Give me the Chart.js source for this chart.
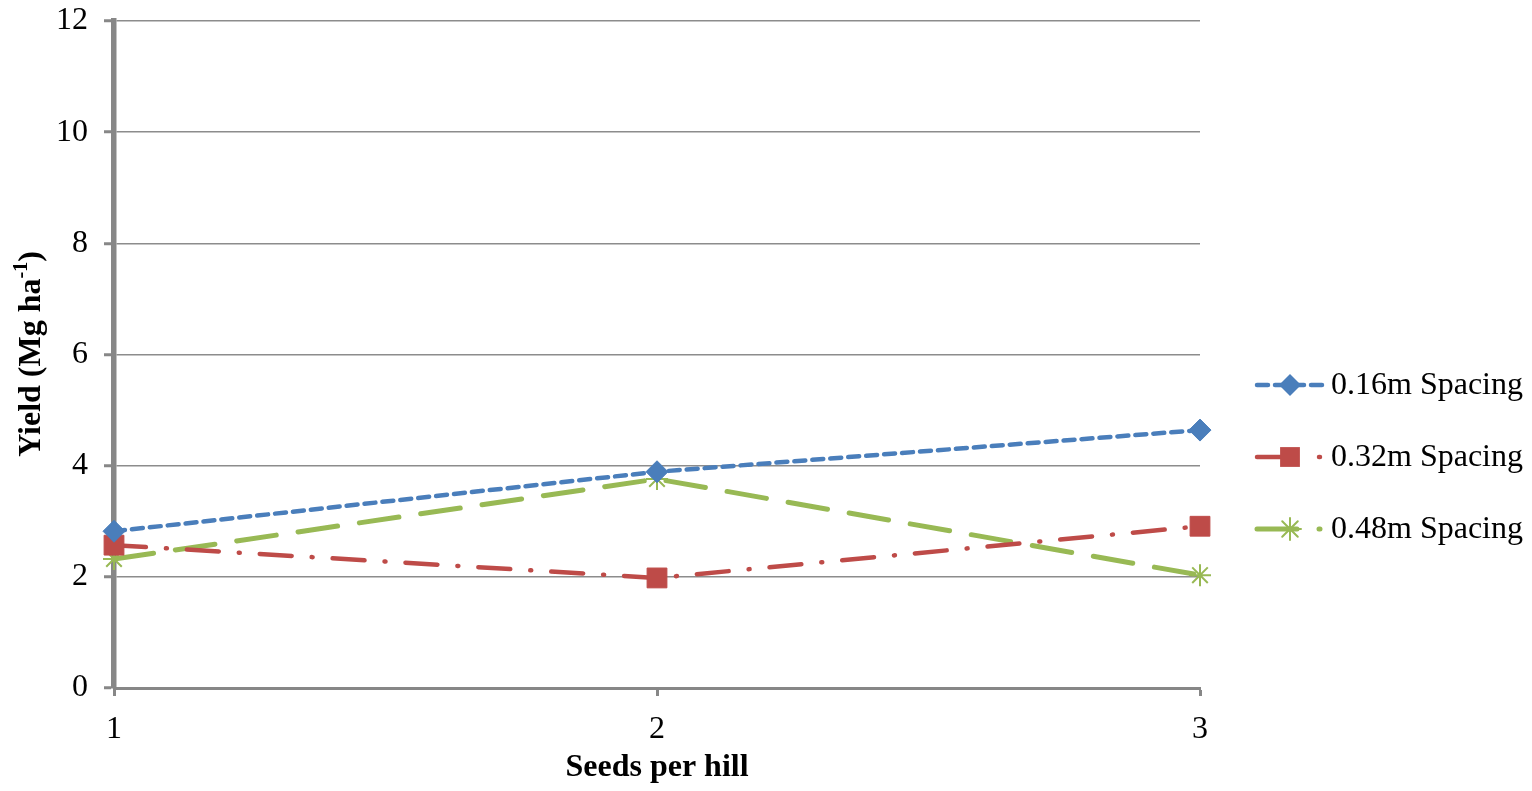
<!DOCTYPE html>
<html lang="en">
<head>
<meta charset="UTF-8">
<title>Yield by seeds per hill</title>
<script src="https://cdn.jsdelivr.net/npm/chart.js"></script>
<style>
  html, body { margin: 0; padding: 0; background: #fff; }
  #wrap { width: 1532px; height: 791px; position: relative; }
</style>
</head>
<body>
<div id="wrap"><canvas id="yieldChart"></canvas></div>
<script>
// seeds per hill
const seeds = ['1', '2', '3'];
// yield, Mg ha-1
const spacing016 = [2.82, 3.89, 4.64];
const spacing032 = [2.57, 1.98, 2.91];
const spacing048 = [2.32, 3.76, 2.03];
const yTicks = [0, 2, 4, 6, 8, 10, 12];

const AXIS_GREY = '#878787';
const FONT = '"Liberation Serif", "Times New Roman", serif';
const FS = 32;

// y axis title with superscript, and the line+marker legend on the right
const extras = {
  id: 'extras',
  afterDraw(chart) {
    const ctx = chart.ctx;

    // y title
    ctx.save();
    ctx.translate(32, 354);
    ctx.rotate(-Math.PI / 2);
    ctx.fillStyle = '#000';
    ctx.textBaseline = 'middle';
    const a = 'Yield (Mg ha', b = '-1', c = ')';
    ctx.font = 'bold ' + FS + 'px ' + FONT;
    const wa = ctx.measureText(a).width, wc = ctx.measureText(c).width;
    ctx.font = 'bold 20px ' + FONT;
    const wb = ctx.measureText(b).width;
    let x = -(wa + wb + wc) / 2;
    ctx.font = 'bold ' + FS + 'px ' + FONT;
    ctx.textAlign = 'left';
    ctx.fillText(a, x, 0);
    x += wa;
    ctx.font = 'bold 20px ' + FONT;
    ctx.fillText(b, x, -10);
    x += wb;
    ctx.font = 'bold ' + FS + 'px ' + FONT;
    ctx.fillText(c, x, 0);
    ctx.restore();

    // legend
    const rows = [385, 457, 529];
    chart.data.datasets.forEach((ds, i) => {
      const y = rows[i];
      ctx.save();
      ctx.strokeStyle = ds.borderColor;
      ctx.lineWidth = ds.borderWidth;
      ctx.lineCap = 'round';
      ctx.setLineDash(ds.legendDash);
      ctx.beginPath();
      ctx.moveTo(1257, y);
      ctx.lineTo(1322, y);
      ctx.stroke();
      ctx.setLineDash([]);
      drawMarker(ctx, ds, 1290, y);
      ctx.fillStyle = '#000';
      ctx.font = FS + 'px ' + FONT;
      ctx.textAlign = 'left';
      ctx.textBaseline = 'middle';
      ctx.fillText(ds.label, 1331, y + 1);
      ctx.restore();
    });
  }
};

function drawMarker(ctx, ds, x, y) {
  const r = ds.pointRadius;
  ctx.fillStyle = ds.pointBackgroundColor;
  ctx.strokeStyle = ds.pointBorderColor;
  ctx.lineWidth = ds.pointBorderWidth;
  ctx.beginPath();
  if (ds.pointStyle === 'rectRot') {
    ctx.moveTo(x, y - r); ctx.lineTo(x + r, y); ctx.lineTo(x, y + r); ctx.lineTo(x - r, y);
    ctx.closePath(); ctx.fill();
  } else if (ds.pointStyle === 'rect') {
    const s = r * Math.SQRT1_2;
    ctx.rect(x - s, y - s, 2 * s, 2 * s); ctx.fill();
  } else {
    for (let k = 0; k < 4; k++) {
      const ang = k * Math.PI / 4;
      ctx.moveTo(x - r * Math.cos(ang), y - r * Math.sin(ang));
      ctx.lineTo(x + r * Math.cos(ang), y + r * Math.sin(ang));
    }
    ctx.stroke();
  }
}

new Chart(document.getElementById('yieldChart'), {
  type: 'line',
  data: {
    labels: seeds,
    datasets: [
      {
        label: '0.16m Spacing', data: spacing016,
        borderColor: '#4A7EBB', borderWidth: 4.5, borderDash: [11, 7], legendDash: [11, 7],
        borderCapStyle: 'round',
        pointStyle: 'rectRot', pointRadius: 11, pointBackgroundColor: '#4A7EBB',
        pointBorderColor: '#4A7EBB', pointBorderWidth: 1
      },
      {
        label: '0.32m Spacing', data: spacing032,
        borderColor: '#BE4B48', borderWidth: 4.5, borderDash: [32, 20, 1, 20], legendDash: [32, 30, 1, 20],
        borderCapStyle: 'round',
        pointStyle: 'rect', pointRadius: 14, pointBackgroundColor: '#BE4B48',
        pointBorderColor: '#BE4B48', pointBorderWidth: 1
      },
      {
        label: '0.48m Spacing', data: spacing048,
        borderColor: '#98B954', borderWidth: 5, borderDash: [40, 22], legendDash: [40, 22, 1, 20],
        borderCapStyle: 'round',
        pointStyle: 'star', pointRadius: 11, pointBackgroundColor: '#98B954',
        pointBorderColor: '#98B954', pointBorderWidth: 2
      }
    ]
  },
  options: {
    responsive: true,
    maintainAspectRatio: false,
    animation: false,
    layout: { padding: { left: 0, right: 332, top: 21, bottom: 0 } },
    plugins: { legend: { display: false }, tooltip: { enabled: false } },
    scales: {
      x: {
        offset: false,
        grid: { drawOnChartArea: false, drawTicks: true, tickLength: 8, tickColor: AXIS_GREY, tickWidth: 3 },
        border: { color: AXIS_GREY, width: 3 },
        ticks: { color: '#000', font: { family: FONT, size: FS }, padding: 14, maxRotation: 0 },
        title: { display: true, text: 'Seeds per hill', color: '#000', font: { family: FONT, size: FS, weight: 'bold' }, padding: { top: 12 } },
        afterFit(scale) { scale.height = 103; scale.paddingLeft = 0; scale.paddingRight = 0; }
      },
      y: {
        min: 0, max: 12,
        afterBuildTicks(scale) { scale.ticks = yTicks.map(v => ({ value: v })); },
        grid: { color: '#8c8c8c', lineWidth: 1.5, tickLength: 10, tickColor: AXIS_GREY, tickWidth: 3 },
        border: { color: AXIS_GREY, width: 5.5 },
        ticks: { color: '#000', font: { family: FONT, size: FS }, padding: 16 },
        afterFit(scale) { scale.width = 114; scale.paddingTop = 0; scale.paddingBottom = 0; }
      }
    }
  },
  plugins: [extras]
});
</script>
</body>
</html>
